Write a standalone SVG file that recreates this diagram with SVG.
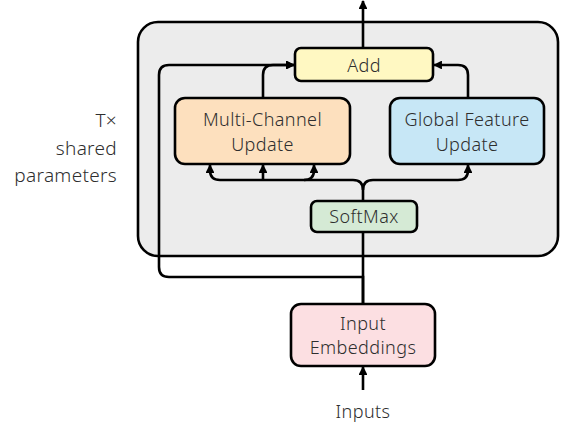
<svg xmlns="http://www.w3.org/2000/svg" width="562" height="427" viewBox="0 0 562 427">
<defs>
<marker id="ah" viewBox="0 0 10 10" refX="9" refY="5" markerWidth="3.4" markerHeight="3.4" orient="auto" markerUnits="strokeWidth">
<path d="M0,0 L10,5 L0,10 z" fill="#000"/>
</marker>
</defs>
<style>
.box{stroke:#000;stroke-width:2.6}
.t{font-family:"Noto Sans","Open Sans",sans-serif;font-size:18px;letter-spacing:0.4px;font-weight:300;fill:#2e2e2e;text-anchor:middle}
.lbl{font-family:"Noto Sans","Open Sans",sans-serif;font-size:19px;letter-spacing:0.3px;font-weight:300;fill:#2e2e2e;text-anchor:end}
.c{fill:none;stroke:#000;stroke-width:2.6}
.a{marker-end:url(#ah)}
</style>
<rect width="562" height="427" fill="#fff"/>
<g id="container">
<rect x="138" y="22" width="420" height="234" rx="20" fill="#ececec" class="box"/>
</g>
<g id="label">
<text class="lbl" x="117" y="127">T×</text>
<text class="lbl" x="117" y="155">shared</text>
<text class="lbl" x="117" y="182">parameters</text>
</g>
<g id="connectors">
<path class="c a" d="M363,48 V1"/>
<path class="c a" d="M363,304 V277 H169 Q159,277 159,267 V75 Q159,65 169,65 H294"/>
<path class="c a" d="M263,98 V75 Q263,65 273,65 H294"/>
<path class="c a" d="M468,98 V75 Q468,65 458,65 H434"/>
<path class="c" d="M363,304 V201"/>
<path class="c" d="M363,201 V190 Q363,180 353,180 H220 Q210,180 210,170"/>
<path class="c a" d="M210,172 V165"/>
<path class="c a" d="M263,180 V165"/>
<path class="c" d="M304,180 Q314,180 314,170"/>
<path class="c a" d="M314,172 V165"/>
<path class="c" d="M363,190 Q363,180 373,180 H458 Q468,180 468,170"/>
<path class="c a" d="M468,172 V165"/>
<path class="c a" d="M363,390 V367"/>
</g>
<g id="add">
<rect x="295" y="48" width="138" height="33" rx="6" fill="#fff8c2" class="box"/>
<text class="t" x="364" y="71.5">Add</text>
</g>
<g id="multi">
<rect x="175" y="98" width="175" height="66" rx="10" fill="#fde0be" class="box"/>
<text class="t" x="262.5" y="126">Multi-Channel</text>
<text class="t" x="262.5" y="150.5">Update</text>
</g>
<g id="global">
<rect x="390" y="98" width="154" height="66" rx="10" fill="#c7e7f6" class="box"/>
<text class="t" x="467" y="126">Global Feature</text>
<text class="t" x="467" y="150.5">Update</text>
</g>
<g id="softmax">
<rect x="311" y="201" width="106" height="31" rx="6" fill="#d5ead5" class="box"/>
<text class="t" x="364" y="223">SoftMax</text>
</g>
<g id="embed">
<rect x="291" y="304" width="144" height="62" rx="10" fill="#fcdfe2" class="box"/>
<text class="t" x="363" y="329.5">Input</text>
<text class="t" x="363" y="354">Embeddings</text>
</g>
<g id="inputs">
<text class="t" x="363" y="418">Inputs</text>
</g>
</svg>
